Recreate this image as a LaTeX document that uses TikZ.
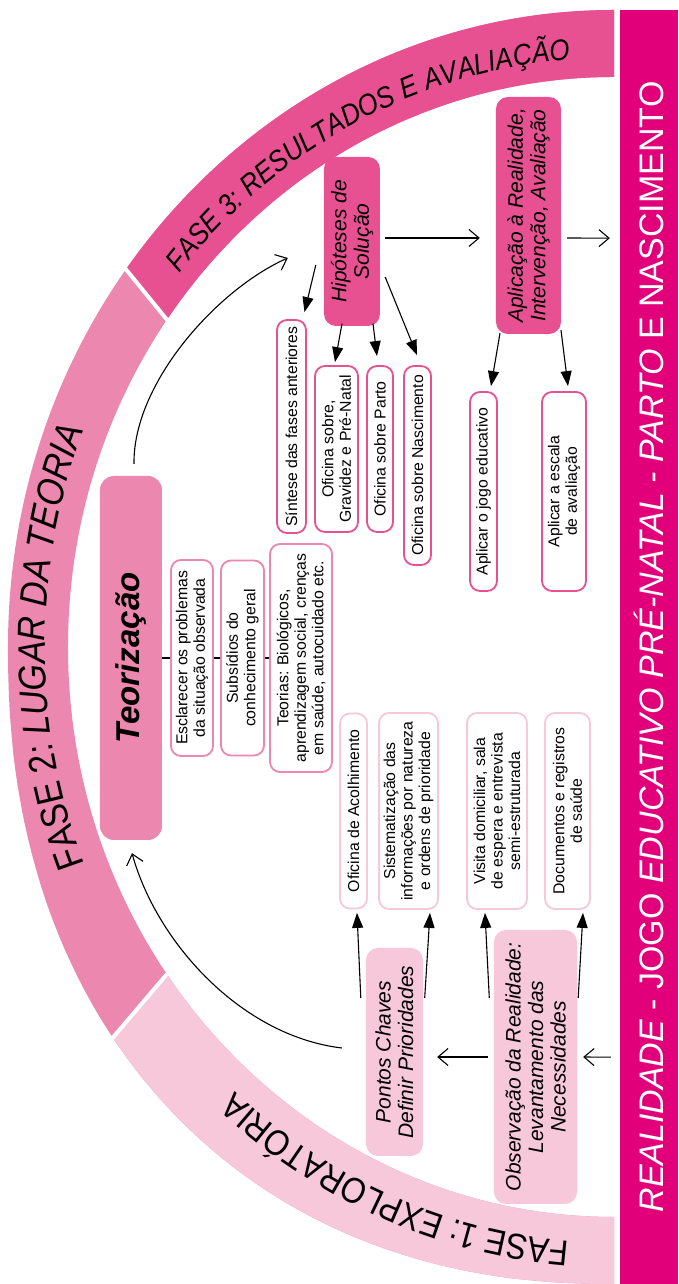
\documentclass[tikz,border=0pt]{standalone}
\usepackage{fontspec}
\setmainfont{Liberation Sans}
\newfontfamily\arcfont[FakeStretch=0.88]{Liberation Sans}
\usetikzlibrary{arrows.meta,decorations.text}

\definecolor{barmag}{RGB}{226,0,122}
\definecolor{fase3}{RGB}{231,81,146}
\definecolor{fase2}{RGB}{236,135,176}
\definecolor{fase1}{RGB}{246,200,218}

% outline of the three phase bands (outer edge, then inner edge back)
\newcommand{\ringpath}{(0,64) -- plot[domain=0.3:89.7, samples=60] ({637-637*pow(cos(\x),0.91)}, {64+606*pow(sin(\x),0.91)}) -- (637,670) arc[start angle=90, end angle=0, x radius=637, y radius=606] -- (1207,64) arc[start angle=0, end angle=180, x radius=570, y radius=546] -- cycle}

\tikzset{
  smallbox/.style={draw=#1, fill=white, line width=1.8pt, rounded corners=10pt, inner sep=0pt, align=center, font=\fontsize{15.8}{17.5}\selectfont},
  phasebox/.style={fill=#1, rounded corners=12pt, inner sep=0pt, align=center, font=\fontsize{21}{22.5}\selectfont\itshape},
  fillarrow/.style={line width=1.1pt, -{Triangle[length=15pt,width=11pt]}},
  openarrow/.style={line width=1.1pt, -{Straight Barb[length=10pt,width=17pt]}}
}

\begin{document}
\begin{tikzpicture}[x=1pt, y=1pt, rotate=90, transform shape]
  \useasboundingbox (0,0) rectangle (1284,678);
  \fill[white] (0,0) rectangle (1284,678);

  % phase bands
  \fill[fase2] \ringpath;
  \begin{scope}
    \clip (598,265) -- (118,675) -- (-50,690) -- (-50,-20) -- (598,-20) -- cycle;
    \fill[fase1] \ringpath;
  \end{scope}
  \begin{scope}
    \clip (675,276) -- (1155,666) -- (1350,690) -- (1350,-20) -- (675,-20) -- cycle;
    \fill[fase3] \ringpath;
  \end{scope}
  \draw[white, line width=4pt] (310,511) -- ++(-67,57);
  \draw[white, line width=4pt] (963,510) -- ++(70,57);

  % phase titles
  \begin{scope}[shift={(637,64)}]
    \path[decorate, decoration={text along path, text align=center,
        text={|\arcfont\fontsize{36}{40}\selectfont|FASE 1: EXPLORATÓRIA}}]
      (186:596 and 569) arc[start angle=186, end angle=128, x radius=596, y radius=569];
    \path[decorate, decoration={text along path, text align=center,
        text={|\arcfont\fontsize{38.5}{42}\selectfont|FASE 2: |\arcfont\fontsize{38.5}{42}\selectfont\itshape|LUGAR DA TEORIA}}]
      (125:596 and 569) arc[start angle=125, end angle=55, x radius=596, y radius=569];
    \path[decorate, decoration={text along path, text align=center,
        text={|\arcfont\fontsize{29.5}{32}\selectfont\itshape|FASE 3: RESULTADOS E AVALIAÇÃO}}]
      (55:589.5 and 562) arc[start angle=55, end angle=0, x radius=589.5, y radius=562];
  \end{scope}

  % reality bar
  \node[fill=barmag, minimum width=1274pt, minimum height=58pt, inner sep=0pt, text=white,
        font=\fontsize{34}{37}\selectfont] (bar) at (637,29)
    {{\itshape REALIDADE} - JOGO {\itshape EDUCATIVO PRÉ-NATAL - PARTO} E NASCIMENTO};

  % theory
  \node[phasebox=fase2, minimum width=364pt, minimum height=62pt, rounded corners=14pt,
        font=\fontsize{33}{36}\selectfont\bfseries\itshape] (teor) at (626,547) {Teorização};
  \node[smallbox=fase2, minimum width=196pt, minimum height=42pt] (escl) at (626,486) {Esclarecer os problemas\\da situação observada};
  \node[smallbox=fase2, minimum width=195pt, minimum height=43pt] (subs) at (626,435.5) {Subsídios do\\conhecimento geral};
  \node[smallbox=fase2, minimum width=228pt, minimum height=62pt] (teorias) at (626,377) {Teorias: Biológicos,\\aprendizagem social, crenças\\em saúde, autocuidado etc.};

  % exploration
  \node[smallbox=fase1, minimum width=195pt, minimum height=27pt] (acolh) at (473,324.5) {Oficina de Acolhimento};
  \node[smallbox=fase1, minimum width=196pt, minimum height=59pt] (sistem) at (473,269.5) {Sistematização das\\informações por natureza\\e ordens de prioridade};
  \node[smallbox=fase1, minimum width=196pt, minimum height=60pt] (visita) at (473,181) {Visita domiciliar, sala\\de espera e entrevista\\semi-estruturada};
  \node[smallbox=fase1, minimum width=196pt, minimum height=45pt] (docs) at (473,110.5) {Documentos e registros\\de saúde};
  \node[phasebox=fase1, minimum width=208pt, minimum height=57pt] (pontos) at (232,283.5) {Pontos Chaves\\Definir Prioridades};
  \node[phasebox=fase1, minimum width=274pt, minimum height=83pt] (obs) at (217,142.5) {Observação da Realidade:\\Levantamento das\\Necessidades};

  % results
  \node[phasebox=fase3, minimum width=169pt, minimum height=56pt] (hipo) at (1042.5,326) {Hipóteses de\\Solução};
  \node[phasebox=fase3, minimum width=237pt, minimum height=65pt] (apl) at (1068.5,149.5) {Aplicação à Realidade,\\Intervenção, Avaliação};
  \node[smallbox=fase3, minimum width=213pt, minimum height=29pt] (sint) at (857.5,386.5) {Síntese das fases anteriores};
  \node[smallbox=fase3, minimum width=166pt, minimum height=43pt] (ofgrav) at (835,341.5) {Oficina sobre,\\Gravidez e Pré-Natal};
  \node[smallbox=fase3, minimum width=166pt, minimum height=26pt] (ofparto) at (835,298) {Oficina sobre Parto};
  \node[smallbox=fase3, minimum width=199pt, minimum height=27pt] (ofnasc) at (818.5,260.5) {Oficina sobre Nascimento};
  \node[smallbox=fase3, minimum width=199pt, minimum height=27pt] (aplj) at (792.5,194.5) {Aplicar o jogo educativo};
  \node[smallbox=fase3, minimum width=199pt, minimum height=44pt] (aplesc) at (792.5,114) {Aplicar a escala\\de avaliação};

  % connectors
  \draw[line width=1.1pt] (teor.south) -- (escl.north);
  \draw[line width=1.1pt] (escl.south) -- (subs.north);
  \draw[line width=1.1pt] (subs.south) -- (teorias.north);

  \draw[openarrow] ([shift={(227,9)}]bar.north west) -- ([shift={(10,-6)}]obs.south);
  \draw[openarrow] ([shift={(10,6)}]obs.north) -- ([shift={(-5,-14)}]pontos.south);
  \draw[fillarrow] ([shift={(54,5)}]pontos.north) -- ([shift={(-3.5,-3.5)}]acolh.west);
  \draw[fillarrow] ([shift={(54,-1.5)}]pontos.south) -- ([shift={(-3,-21.5)}]sistem.west);
  \draw[fillarrow] ([shift={(69,4.5)}]obs.north) -- ([shift={(-3,12)}]visita.west);
  \draw[fillarrow] ([shift={(69,-1)}]obs.south) -- ([shift={(-3,-15.5)}]docs.west);
  \draw[openarrow] ([shift={(4,24)}]pontos.north) .. controls +(12,100) and +(-90,-25) .. ([shift={(-13,-1)}]teor.west);
  \draw[openarrow] ([shift={(12,-3)}]teor.east) .. controls +(81,1) and +(-31,70) .. ([shift={(-16.5,36)}]hipo.north);

  \draw[fillarrow] ([shift={(-23.5,8)}]hipo.north) -- ([shift={(7,-13)}]sint.east);
  \draw[fillarrow] ([shift={(2.5,10)}]hipo.west) -- ([shift={(3,1.5)}]ofgrav.east);
  \draw[fillarrow] ([shift={(2.5,-21)}]hipo.west) -- ([shift={(9,3)}]ofparto.east);
  \draw[fillarrow] ([shift={(-35.5,-5)}]hipo.south) -- ([shift={(10,0.5)}]ofnasc.east);
  \draw[openarrow] ([shift={(3.5,-5)}]hipo.south) -- ([shift={(-22.5,16)}]apl.north);
  \draw[openarrow] ([shift={(-22.5,-6)}]apl.south) -- ([shift={(1046,10)}]bar.north west);
  \draw[fillarrow] ([shift={(1,28.5)}]apl.west) -- ([shift={(5,-7.5)}]aplj.east);
  \draw[fillarrow] ([shift={(4,-32.5)}]apl.west) -- ([shift={(5,-4)}]aplesc.east);
\end{tikzpicture}
\end{document}
